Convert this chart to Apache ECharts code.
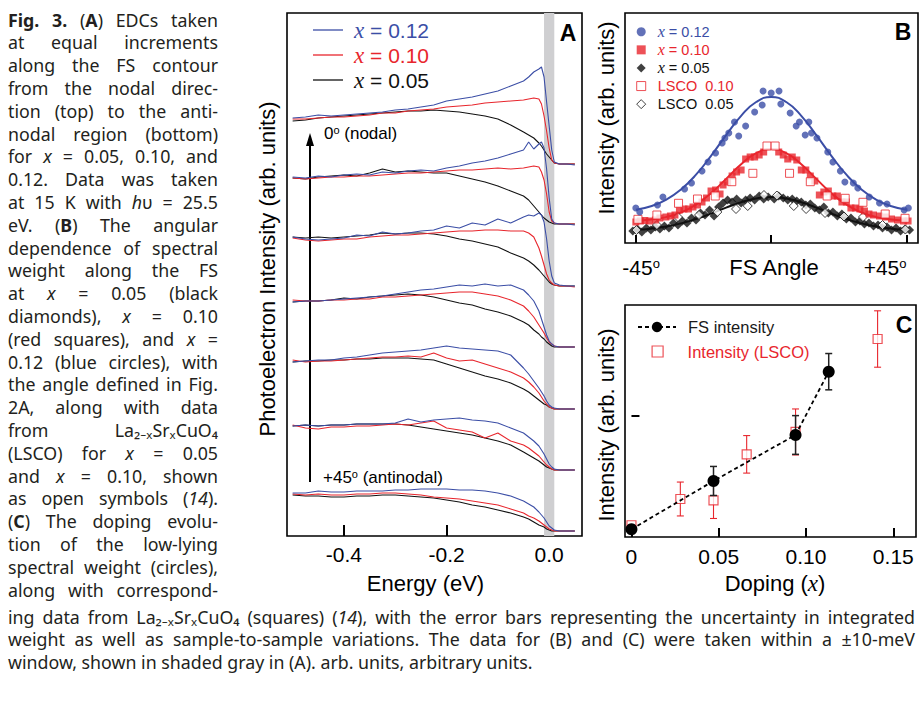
<!DOCTYPE html>
<html>
<head>
<meta charset="utf-8">
<script src="https://cdn.jsdelivr.net/npm/echarts@6/dist/echarts.min.js"></script>
<style>
html,body{margin:0;padding:0;background:#fff;}
#wrap{position:relative;width:920px;height:702px;overflow:hidden;background:#fff;}
#chart{position:absolute;left:0;top:0;width:920px;height:702px;}
.cap{position:absolute;font-family:"Noto Sans","Open Sans",sans-serif;font-size:17.8px;color:#231f20;}
.cap div{text-align:justify;text-align-last:justify;overflow:visible;}
#capL div{height:22.8px;line-height:22.8px;}
#capB div{height:22.5px;line-height:22.5px;}
#capB div.last{text-align-last:left;}
</style>
</head>
<body>
<div id="wrap">
<div id="chart"></div>
<div class="cap" id="capL" style="left:8px;top:8.6px;width:210px;">
<div><b>Fig. 3.</b> (<b>A</b>) EDCs taken</div>
<div>at equal increments</div>
<div>along the FS contour</div>
<div>from the nodal direc-</div>
<div>tion (top) to the anti-</div>
<div>nodal region (bottom)</div>
<div>for <i>x</i> = 0.05, 0.10, and</div>
<div>0.12. Data was taken</div>
<div>at 15 K with <i>h</i>υ = 25.5</div>
<div>eV. (<b>B</b>) The angular</div>
<div>dependence of spectral</div>
<div>weight along the FS</div>
<div>at <i>x</i> = 0.05 (black</div>
<div>diamonds), <i>x</i> = 0.10</div>
<div>(red squares), and <i>x</i> =</div>
<div>0.12 (blue circles), with</div>
<div>the angle defined in Fig.</div>
<div>2A, along with data</div>
<div>from La₂₋ₓSrₓCuO₄</div>
<div>(LSCO) for <i>x</i> = 0.05</div>
<div>and <i>x</i> = 0.10, shown</div>
<div>as open symbols (<i>14</i>).</div>
<div>(<b>C</b>) The doping evolu-</div>
<div>tion of the low-lying</div>
<div>spectral weight (circles),</div>
<div>along with correspond-</div>
</div>
<div class="cap" id="capB" style="left:8px;top:605.5px;width:907px;">
<div>ing data from La₂₋ₓSrₓCuO₄ (squares) (<i>14</i>), with the error bars representing the uncertainty in integrated</div>
<div>weight as well as sample-to-sample variations. The data for (B) and (C) were taken within a ±10-meV</div>
<div class="last">window, shown in shaded gray in (A). arb. units, arbitrary units.</div>
</div>
</div>
<script>
// ---------------- Panel A: EDCs ----------------
const energy = [-0.5,-0.475,-0.45,-0.425,-0.4,-0.375,-0.35,-0.325,-0.3,-0.275,-0.25,-0.225,-0.2,-0.175,-0.15,-0.125,-0.1,-0.075,-0.05,-0.04,-0.03,-0.02,-0.015,-0.01,-0.005,0,0.005,0.01,0.02,0.035,0.05];
const edcOffsets = [372,312,250,189,127,66,5];
const edcX012 = [
 [46,47,49,48,49,50,51,52,54,55,57,59,63,65,67,70,73,78,83,87,92,95,97,87,62,38,14,2,0,0,-1],
 [47,46,48,47,49,50,49,52,51,53,54,53,56,58,61,63,66,70,74,82,75,80,82,76,55,26,5,1,0,0,-1],
 [49,47,46,47,48,51,50,54,52,53,55,56,60,58,63,61,67,63,69,71,70,73,71,64,47,25,10,3,1,0,0],
 [45,46,46,47,48,49,50,51,53,55,57,58,60,62,61,63,61,62,57,52,46,36,28,20,12,6,3,1,0,0,0],
 [47,48,49,49,51,52,54,56,57,58,59,61,63,61,60,59,58,54,41,35,28,21,17,13,8,4,2,1,0,0,0],
 [44,45,44,45,45,46,46,46,47,51,48,50,51,52,50,49,47,42,37,33,29,24,20,16,11,6,3,1,0,0,0],
 [38,38,40,39,39,40,40,40,41,41,42,42,42,41,41,40,38,35,30,27,24,19,16,13,9,5,3,1,0,0,0]
];
const edcX010 = [
 [45,45,46,47,47,48,49,51,51,53,54,55,57,58,59,61,62,63,64,65,66,65,60,48,33,16,4,1,0,0,0],
 [46,45,46,47,47,48,48,49,50,51,51,52,53,54,54,55,56,55,56,57,58,57,52,44,30,12,3,1,0,0,0],
 [48,46,45,46,47,47,49,50,51,51,52,53,54,55,55,56,56,55,55,53,49,38,30,21,12,6,3,1,0,0,-1],
 [47,46,46,47,47,48,48,50,50,51,52,53,54,55,55,53,51,47,41,36,30,22,18,14,9,5,3,1,0,0,0],
 [49,47,48,48,49,50,51,52,52,53,52,56,51,48,49,45,41,37,31,27,22,16,12,8,5,2,1,0,0,0,0],
 [45,42,41,43,43,44,44,45,46,45,47,49,42,40,38,32,37,29,25,22,18,14,11,8,5,3,1,0,0,0,0],
 [37,36,37,36,36,37,37,38,38,37,36,34,33,32,30,28,26,22,18,15,13,10,8,6,4,2,1,0,0,0,0]
];
const edcX005 = [
 [43,44,46,47,48,49,50,51,52,53,53,54,53,52,50,48,45,39,32,29,26,21,18,14,10,7,4,1,0,0,0],
 [46,45,47,48,49,48,51,55,52,53,52,51,51,48,45,42,38,33,28,24,18,12,9,6,4,2,1,0,0,0,0],
 [49,48,49,48,49,50,51,53,52,53,53,52,50,47,45,42,39,33,28,25,21,16,13,10,7,4,2,1,0,0,0],
 [45,46,46,47,49,48,50,51,52,53,52,50,47,44,42,38,35,31,25,22,17,13,10,8,5,3,1,0,0,0,0],
 [47,48,48,49,49,50,50,51,51,51,50,49,45,41,37,33,30,26,20,17,13,9,7,5,4,2,1,0,0,0,0],
 [44,45,44,45,45,46,46,46,46,45,43,41,39,37,35,32,29,25,18,15,12,9,7,5,3,2,1,0,0,0,0],
 [36,35,35,34,34,35,35,36,36,35,34,33,31,29,26,24,21,18,14,12,9,6,5,4,2,1,0,0,0,0,0]
];
const energyTicks = [-0.4,-0.2,0];
const windowHalfWidth = 0.01;

// ---------------- Panel B: FS angle dependence ----------------
const angleTicks = [-45,0,45];
const fsX012 = [[-45,35],[-43.7,31],[-37.8,38],[-36,46],[-28.8,54],[-26.5,60],[-23,72],[-21,81],[-18.5,90],[-16.3,100],[-15.4,105],[-14.1,110],[-12.2,121],[-10.8,107],[-8.5,117],[-5.5,131],[-3,138],[-2.7,152],[0,150],[2.6,152],[3.2,139],[6.3,130],[8.3,117],[9.4,121],[11.3,108],[12.5,121],[13.4,110],[15.2,105],[18.8,91],[20.5,81],[23,72],[24.5,61],[27.3,60],[28.8,55],[32.6,46],[36,40],[38.5,39],[44.2,33],[45.6,35]];
const fsX010 = [[-45,21],[-43.5,22],[-42,22.5],[-40.5,22],[-38.5,23],[-37,25],[-35,26],[-33.5,27],[-32,28],[-30.5,33],[-29,34],[-27.5,34],[-26,36],[-24.5,38],[-23,41],[-21.5,45],[-20,52],[-18.5,53],[-17,49],[-16,58],[-14.5,61],[-13,67],[-11.5,71],[-10,73],[-8.5,84],[-7,86],[-5.5,86],[-4,88],[-2.5,91],[2.5,91],[4,88],[5.5,84],[7,86],[8.5,83],[10,73],[11.5,73],[13,67],[14.5,62],[16,48],[17.5,51],[19,52],[20.5,47],[22,47],[23.5,41],[25,41],[26.5,35],[28,35],[29.5,34],[31,32],[32.5,29],[34,28],[36,27],[38,26],[40,24],[42,23],[44,22],[45.5,22]];
const fsX005 = [[-46,12],[-44.5,14],[-43,11],[-41.5,15],[-40,13],[-38.5,16],[-37,14],[-35.5,17],[-34,15],[-32.5,20],[-31,18],[-29.5,22],[-28,20],[-26.5,25],[-25,23],[-23.5,30],[-22,28],[-20.5,33],[-19,27],[-17.5,36],[-16,40],[-14.5,43],[-13,41],[-11.5,44],[-10,40],[-8.5,43],[-7,45],[-5.5,43],[-4,47],[-2.5,44],[-1,46],[1,44],[2.5,47],[4,45],[5.5,43],[7,44],[8.5,42],[10,41],[11.5,38],[13,39],[14.5,35],[16,33],[17.5,36],[19,30],[20.5,31],[22,27],[23.5,29],[25,24],[26.5,25],[28,21],[29.5,22],[31,19],[32.5,20],[34,17],[35.5,18],[37,15],[38.5,16],[40,13],[41.5,15],[43,12],[44.5,14],[46,13]];
const fsLSCO010 = [[-44.3,23.7],[-38,28],[-30.8,39.7],[-24.5,44],[-18.6,47],[-13.1,61.3],[-6.1,69.7],[-1.4,97],[1.3,97],[6.1,69.7],[13,61.3],[18.6,47],[24.6,44.7],[30.5,40.7],[37.9,29],[44.5,24.7]];
const fsLSCO005 = [[-44.8,13],[-38,18],[-31,26],[-24,28],[-17.9,31],[-11.7,34],[-7.8,37],[-2.4,48],[1.9,47.5],[7.5,37],[11.6,34],[17.9,30],[24.2,26.5],[30.5,26],[37,18],[44.6,13.5]];
const fitAngles = [-45,-40,-35,-30,-25,-20,-15,-10,-5,0,5,10,15,20,25,30,35,40,45];
const fitX012 = [33.2,36.8,43.2,53.5,68.3,87.1,107.8,127.2,141,146,141,127.2,107.8,87.1,68.3,53.5,43.2,36.8,33.2];
const fitX010 = [22.6,23.6,25.9,30.5,38.3,49.8,64.1,78.7,89.8,94,89.8,78.7,64.1,49.8,38.3,30.5,25.9,23.6,22.6];
const fitX005 = [13.2,14.3,16.4,19.6,24,29.4,35.4,40.8,44.6,46,44.6,40.8,35.4,29.4,24,19.6,16.4,14.3,13.2];

// ---------------- Panel C: doping evolution ----------------
const dopingTicks = [0,0.05,0.1,0.15];
const dopingFS = [0,0.047,0.094,0.113];
const intensityFS = [0.064,0.463,0.843,1.366];
const errorFS = [0,0.12,0.16,0.15];
const dopingLSCO = [0,0.028,0.047,0.066,0.094,0.141];
const intensityLSCO = [0.097,0.314,0.303,0.683,0.868,1.636];
const errorLSCO = [0,0.14,0.15,0.155,0.19,0.233];

const BLUE = '#3b4ea6', RED = '#e8262d', BLACK = '#111111';
const FONT = '"Liberation Sans", Arial, Helvetica, sans-serif';
const SERIF = '"Liberation Serif", "Times New Roman", serif';

const chart = echarts.init(document.getElementById('chart'), null, {renderer: 'svg', width: 920, height: 702});

const series = [];
series.push({
  type: 'line', xAxisIndex: 0, yAxisIndex: 0, data: [], silent: true, z: 1,
  markArea: {silent: true, itemStyle: {color: '#cfcfd1'}, label: {show: false},
    data: [[{xAxis: -windowHalfWidth}, {xAxis: windowHalfWidth}]]}
});
[['A005', edcX005, BLACK], ['A010', edcX010, RED], ['A012', edcX012, BLUE]].forEach(([name, curves, color]) => {
  curves.forEach((curve, g) => {
    series.push({
      type: 'line', name, xAxisIndex: 0, yAxisIndex: 0, symbol: 'none', showSymbol: false, silent: true, z: 3,
      data: energy.map((e, i) => [e, edcOffsets[g] + curve[i]]),
      lineStyle: {color, width: 1.1}, itemStyle: {color}
    });
  });
});

[[fitX005, BLACK], [fitX010, RED], [fitX012, BLUE]].forEach(([vals, color]) => {
  series.push({
    type: 'line', xAxisIndex: 1, yAxisIndex: 1, symbol: 'none', smooth: true, silent: true, z: 2,
    data: fitAngles.map((a, i) => [a, vals[i]]),
    lineStyle: {color, width: 2}
  });
});
series.push({type: 'scatter', name: 'B005', xAxisIndex: 1, yAxisIndex: 1, data: fsX005, symbol: 'diamond', symbolSize: 9, itemStyle: {color: BLACK}, z: 3});
series.push({type: 'scatter', name: 'BL005', xAxisIndex: 1, yAxisIndex: 1, data: fsLSCO005, symbol: 'diamond', symbolSize: 9, itemStyle: {color: '#fff', borderColor: BLACK, borderWidth: 1}, z: 4});
series.push({type: 'scatter', name: 'B010', xAxisIndex: 1, yAxisIndex: 1, data: fsX010, symbol: 'rect', symbolSize: 7, itemStyle: {color: RED}, z: 5});
series.push({type: 'scatter', name: 'BL010', xAxisIndex: 1, yAxisIndex: 1, data: fsLSCO010, symbol: 'rect', symbolSize: 8, itemStyle: {color: '#fff', borderColor: RED, borderWidth: 1}, z: 6});
series.push({type: 'scatter', name: 'B012', xAxisIndex: 1, yAxisIndex: 1, data: fsX012, symbol: 'circle', symbolSize: 7, itemStyle: {color: BLUE}, z: 7});

function errorBars(color, width) {
  return function (params, api) {
    const x = api.value(0), y = api.value(1), e = api.value(2);
    if (!e) return null;
    const t = api.coord([x, y + e]), b = api.coord([x, y - e]);
    const h = 3.5;
    const st = {stroke: color, lineWidth: width};
    return {type: 'group', children: [
      {type: 'line', shape: {x1: t[0], y1: t[1], x2: b[0], y2: b[1]}, style: st},
      {type: 'line', shape: {x1: t[0] - h, y1: t[1], x2: t[0] + h, y2: t[1]}, style: st},
      {type: 'line', shape: {x1: b[0] - h, y1: b[1], x2: b[0] + h, y2: b[1]}, style: st}
    ]};
  };
}
series.push({type: 'custom', xAxisIndex: 2, yAxisIndex: 2, silent: true, z: 2, clip: false,
  renderItem: errorBars(RED, 1.1), encode: {x: 0, y: 1},
  data: dopingLSCO.map((d, i) => [d, intensityLSCO[i], errorLSCO[i]])});
series.push({type: 'scatter', name: 'CLSCO', xAxisIndex: 2, yAxisIndex: 2, z: 3,
  data: dopingLSCO.map((d, i) => [d, intensityLSCO[i]]),
  symbol: 'rect', symbolSize: 9, itemStyle: {color: '#fff', borderColor: RED, borderWidth: 1.2}});
series.push({type: 'custom', xAxisIndex: 2, yAxisIndex: 2, silent: true, z: 4, clip: false,
  renderItem: errorBars('#222', 1.5), encode: {x: 0, y: 1},
  data: dopingFS.map((d, i) => [d, intensityFS[i], errorFS[i]])});
series.push({type: 'line', name: 'CFS', xAxisIndex: 2, yAxisIndex: 2, z: 5,
  data: dopingFS.map((d, i) => [d, intensityFS[i]]),
  symbol: 'circle', symbolSize: 12, itemStyle: {color: '#000'},
  lineStyle: {color: '#000', width: 1.8, type: [4, 3]}});

const legendText = {
  A012: '{i|x}{t| = 0.12}', A010: '{i|x}{t| = 0.10}', A005: '{i|x}{t| = 0.05}',
  B012: '{i|x}{t| = 0.12}', B010: '{i|x}{t| = 0.10}', B005: '{i|x}{t| = 0.05}',
  BL010: 'LSCO\u00a0 0.10', BL005: 'LSCO\u00a0 0.05',
  CFS: 'FS intensity', CLSCO: 'Intensity (LSCO)'
};

const axisBase = {
  type: 'value', splitLine: {show: false}, axisLine: {show: false}, nameMoveOverlap: false
};

const option = {
  animation: false,
  backgroundColor: '#fff',
  textStyle: {fontFamily: FONT},
  grid: [
    {left: 287, top: 13, width: 295, height: 523, show: true, borderColor: '#000', borderWidth: 1.6, backgroundColor: 'rgba(0,0,0,0)', containLabel: false, outerBoundsMode: 'none'},
    {left: 625, top: 13, width: 293, height: 230, show: true, borderColor: '#000', borderWidth: 1.6, backgroundColor: 'rgba(0,0,0,0)', containLabel: false, outerBoundsMode: 'none'},
    {left: 625, top: 305, width: 291, height: 232, show: true, borderColor: '#000', borderWidth: 1.6, backgroundColor: 'rgba(0,0,0,0)', containLabel: false, outerBoundsMode: 'none'}
  ],
  xAxis: [
    Object.assign({}, axisBase, {
      gridIndex: 0, min: -0.511, max: 0.064,
      axisTick: {show: true, inside: true, length: 11, lineStyle: {color: '#000', width: 2}, customValues: energyTicks},
      axisLabel: {show: true, customValues: energyTicks, formatter: v => Math.abs(v) < 1e-9 ? '0.0' : v.toFixed(1), fontSize: 21, color: '#000', margin: 8, fontFamily: FONT},
      name: 'Energy (eV)', nameLocation: 'middle', nameGap: 36,
      nameTextStyle: {fontSize: 22, color: '#000', fontFamily: FONT, padding: [0, 18, 0, 0]}
    }),
    Object.assign({}, axisBase, {
      gridIndex: 1, min: -48.6, max: 48.8,
      axisTick: {show: true, inside: true, length: 8, lineStyle: {color: '#000', width: 2}, customValues: angleTicks},
      axisLabel: {show: true, customValues: angleTicks, margin: 13.5, fontSize: 21, color: '#000', fontFamily: FONT,
        formatter: v => v < 0 ? '{l|' + v + '}{s|o}' : (v > 0 ? '{r|+' + v + '}{s2|o}' : ''),
        rich: {
          l: {fontSize: 21, fontFamily: FONT, padding: [0, 0, 0, 10.6]},
          r: {fontSize: 21, fontFamily: FONT},
          s: {fontSize: 13, fontFamily: FONT, verticalAlign: 'top'},
          s2: {fontSize: 13, fontFamily: FONT, verticalAlign: 'top', padding: [0, 43, 0, 0]}
        }},
      name: 'FS Angle', nameLocation: 'middle', nameGap: 13,
      nameTextStyle: {fontSize: 22, color: '#000', fontFamily: FONT, padding: [0, 0, 0, 5]}
    }),
    Object.assign({}, axisBase, {
      gridIndex: 2, min: -0.0037, max: 0.163,
      axisTick: {show: true, inside: true, length: 9, lineStyle: {color: '#000', width: 2}, customValues: dopingTicks},
      axisLabel: {show: true, customValues: dopingTicks, formatter: v => v === 0 ? '0' : v.toFixed(2), fontSize: 21, color: '#000', margin: 9, fontFamily: FONT},
      name: 'Doping ({i|x})', nameLocation: 'middle', nameGap: 35,
      nameTextStyle: {fontSize: 22, color: '#000', fontFamily: FONT, padding: [0, 0, 0, 9],
        rich: {i: {fontFamily: SERIF, fontStyle: 'italic', fontSize: 23, color: '#000'}}}
    })
  ],
  yAxis: [
    Object.assign({}, axisBase, {
      gridIndex: 0, min: 0, max: 523, axisTick: {show: false}, axisLabel: {show: false},
      name: 'Photoelectron Intensity (arb. units)', nameLocation: 'middle', nameRotate: 90, nameGap: 8.5,
      nameTextStyle: {fontSize: 22, color: '#000', fontFamily: FONT, padding: [0, 0, 0, 11]}
    }),
    Object.assign({}, axisBase, {
      gridIndex: 1, min: 0, max: 230, axisTick: {show: false}, axisLabel: {show: false},
      name: 'Intensity (arb. units)', nameLocation: 'middle', nameRotate: 90, nameGap: 8,
      nameTextStyle: {fontSize: 22, color: '#000', fontFamily: FONT, padding: [0, 0, 0, 20]}
    }),
    Object.assign({}, axisBase, {
      gridIndex: 2, min: 0, max: 1.917,
      axisTick: {show: true, inside: true, length: 8, lineStyle: {color: '#000', width: 2}, customValues: [1]},
      axisLabel: {show: false},
      name: 'Intensity (arb. units)', nameLocation: 'middle', nameRotate: 90, nameGap: 8,
      nameTextStyle: {fontSize: 22, color: '#000', fontFamily: FONT, padding: [0, 8, 0, 0]}
    })
  ],
  legend: [
    {
      id: 'legA', orient: 'vertical', left: 313, top: 17.5, padding: 0, itemGap: 0,
      itemWidth: 30, itemHeight: 1.3, icon: 'rect', selectedMode: false,
      data: [{name: 'A012', textStyle: {color: BLUE}}, {name: 'A010', textStyle: {color: RED}}, {name: 'A005', textStyle: {color: BLACK}}],
      formatter: n => legendText[n],
      textStyle: {fontFamily: FONT, fontSize: 21, lineHeight: 25, padding: [0, 0, 0, 6],
        rich: {i: {fontFamily: SERIF, fontStyle: 'italic', fontSize: 23, lineHeight: 25}, t: {fontFamily: FONT, fontSize: 21, lineHeight: 25}}}
    },
    {
      id: 'legB', orient: 'vertical', left: 636.2, top: 22.7, padding: 0, itemGap: 0,
      itemWidth: 9, itemHeight: 9, selectedMode: false,
      data: [
        {name: 'B012', textStyle: {color: BLUE}},
        {name: 'B010', textStyle: {color: RED}},
        {name: 'B005', textStyle: {color: BLACK}},
        {name: 'BL010', textStyle: {color: RED}, itemStyle: {color: '#fff', borderColor: RED, borderWidth: 1}},
        {name: 'BL005', textStyle: {color: BLACK}, itemStyle: {color: '#fff', borderColor: BLACK, borderWidth: 1}}
      ],
      formatter: n => legendText[n],
      textStyle: {fontFamily: FONT, fontSize: 14.5, lineHeight: 18.1, padding: [0, 0, 0, 7],
        rich: {i: {fontFamily: SERIF, fontStyle: 'italic', fontSize: 16, lineHeight: 18.1}, t: {fontFamily: FONT, fontSize: 14.5, lineHeight: 18.1}}}
    },
    {
      id: 'legC1', orient: 'vertical', left: 637, top: 318.5, padding: 0,
      itemWidth: 38, itemHeight: 13, selectedMode: false,
      data: [{name: 'CFS', textStyle: {color: '#1a1a1a'}}],
      formatter: n => legendText[n],
      textStyle: {fontFamily: FONT, fontSize: 16.5, lineHeight: 13, padding: [0, 0, 0, 7]}
    },
    {
      id: 'legC2', orient: 'vertical', left: 651.5, top: 343, padding: 0,
      itemWidth: 11, itemHeight: 11, selectedMode: false,
      data: [{name: 'CLSCO', textStyle: {color: RED}, itemStyle: {color: '#fff', borderColor: RED, borderWidth: 1.2}}],
      formatter: n => legendText[n],
      textStyle: {fontFamily: FONT, fontSize: 16.5, lineHeight: 11, padding: [0, 0, 0, 19.5]}
    }
  ],
  graphic: [
    {type: 'text', x: 568, y: 33, silent: true, style: {text: 'A', fontFamily: FONT, fontWeight: 'bold', fontSize: 23, fill: '#000', align: 'center', verticalAlign: 'middle'}},
    {type: 'text', x: 903, y: 32, silent: true, style: {text: 'B', fontFamily: FONT, fontWeight: 'bold', fontSize: 23, fill: '#000', align: 'center', verticalAlign: 'middle'}},
    {type: 'text', x: 904, y: 325, silent: true, style: {text: 'C', fontFamily: FONT, fontWeight: 'bold', fontSize: 23, fill: '#000', align: 'center', verticalAlign: 'middle'}},
    {type: 'text', x: 324, y: 133, silent: true, style: {text: '0{s|o} (nodal)', fontFamily: FONT, fontSize: 17, fill: '#000', align: 'left', verticalAlign: 'middle',
      rich: {s: {fontFamily: FONT, fontSize: 11, verticalAlign: 'top', fill: '#000'}}}},
    {type: 'text', x: 323, y: 477, silent: true, style: {text: '+45{s|o} (antinodal)', fontFamily: FONT, fontSize: 17, fill: '#000', align: 'left', verticalAlign: 'middle',
      rich: {s: {fontFamily: FONT, fontSize: 11, verticalAlign: 'top', fill: '#000'}}}},
    {type: 'line', silent: true, shape: {x1: 310, y1: 482, x2: 310, y2: 144}, style: {stroke: '#000', lineWidth: 2}},
    {type: 'polygon', silent: true, shape: {points: [[310, 133], [306, 146], [314, 146]]}, style: {fill: '#000'}}
  ],
  series
};
chart.setOption(option);
</script>
</body>
</html>
